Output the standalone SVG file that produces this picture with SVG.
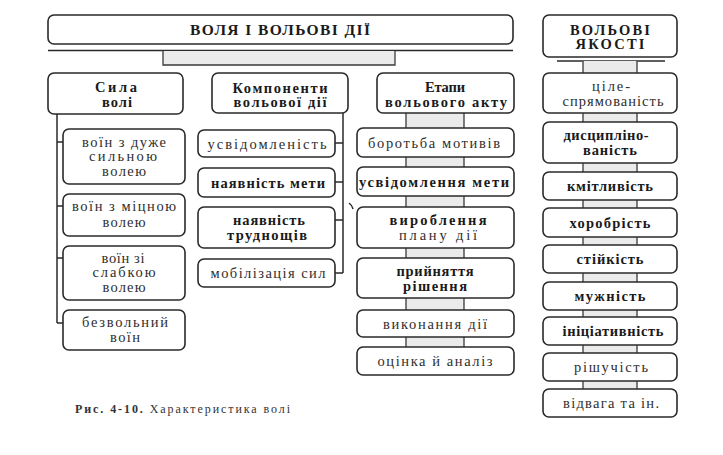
<svg xmlns="http://www.w3.org/2000/svg" width="723" height="455" viewBox="0 0 723 455">
  <style>
    .box { fill: #ffffff; stroke: #2a2a2a; stroke-width: 1.6; }
    .wire { fill: none; stroke: #2a2a2a; stroke-width: 1.5; }
    .bridge { fill: #ebebeb; stroke: none; }
    .side { fill: none; stroke: #3a3a3a; stroke-width: 1.3; }
    text { font-family: "Liberation Serif", "DejaVu Serif", serif; fill: #1a1a1a; text-anchor: middle; }
    .title { font-size: 15.5px; font-weight: bold; }
    .head { font-size: 14.5px; font-weight: bold; }
    .b { font-size: 14.5px; font-weight: bold; }
    .r { font-size: 14.5px; fill: #2e2e2e; }
    .cap { font-size: 12px; text-anchor: start; fill: #333; }
  </style>

  <!-- connectors -->
  <g id="connectors">
    <!-- link from the main title to the three columns -->
    <line class="wire" x1="48" y1="50.5" x2="513" y2="50.5"/>
    <rect class="bridge" x="163" y="51" width="232" height="14"/>
    <path class="side" d="M163,51 V65 H395 V51"/>

    <!-- link under the qualities header -->
    <line class="wire" x1="557" y1="61" x2="665" y2="61"/>

    <!-- strength-of-will branch -->
    <path class="wire" d="M57,114 V323"/>
    <path class="wire" d="M57,142 H63 M57,206 H63 M57,258 H63 M57,323 H63"/>

    <!-- components branch -->
    <path class="wire" d="M343,113 V273"/>
    <path class="wire" d="M335,143 H343 M335,182 H343 M335,220 H343 M335,273 H343"/>
    <path class="wire" d="M349,203 q3,2 4,6"/>

    <!-- stages chain -->
    <g>
      <rect class="bridge" x="406" y="113" width="58" height="15"/>
      <rect class="bridge" x="406" y="157" width="58" height="10"/>
      <rect class="bridge" x="406" y="196" width="58" height="11"/>
      <rect class="bridge" x="406" y="248" width="58" height="10"/>
      <rect class="bridge" x="406" y="298" width="58" height="12"/>
      <rect class="bridge" x="406" y="337" width="58" height="10"/>
      <path class="side" d="M406,113 V128 M464,113 V128 M406,157 V167 M464,157 V167 M406,196 V207 M464,196 V207 M406,248 V258 M464,248 V258 M406,298 V310 M464,298 V310 M406,337 V347 M464,337 V347"/>
    </g>

    <!-- qualities chain -->
    <g>
      <rect class="bridge" x="583" y="61" width="54" height="12"/>
      <rect class="bridge" x="583" y="113" width="54" height="9"/>
      <rect class="bridge" x="583" y="163" width="54" height="9"/>
      <rect class="bridge" x="583" y="200" width="54" height="8"/>
      <rect class="bridge" x="583" y="237" width="54" height="8"/>
      <rect class="bridge" x="583" y="273" width="54" height="9"/>
      <rect class="bridge" x="583" y="310" width="54" height="7"/>
      <rect class="bridge" x="583" y="345" width="54" height="8"/>
      <rect class="bridge" x="583" y="381" width="54" height="8"/>
      <path class="side" d="M583,61 V73 M637,61 V73 M583,113 V122 M637,113 V122 M583,163 V172 M637,163 V172 M583,200 V208 M637,200 V208 M583,237 V245 M637,237 V245 M583,273 V282 M637,273 V282 M583,310 V317 M637,310 V317 M583,345 V353 M637,345 V353 M583,381 V389 M637,381 V389"/>
    </g>
  </g>

  <!-- main title -->
  <g id="title">
    <rect class="box" x="48" y="15" width="465" height="29" rx="6"/>
    <text class="title" x="280" y="35" textLength="180">ВОЛЯ І ВОЛЬОВІ ДІЇ</text>
  </g>

  <!-- column: strength of will -->
  <g id="sila">
    <rect class="box" x="48" y="73" width="135" height="41" rx="6"/>
    <text class="head" x="116" y="92" textLength="42">Сила</text>
    <text class="head" x="117" y="106.5" textLength="30">волі</text>
  </g>
  <g id="sila-1">
    <rect class="box" x="63" y="129" width="122" height="55" rx="6"/>
    <text class="r" x="124" y="146.5" textLength="84">воїн з дуже</text>
    <text class="r" x="123" y="161" textLength="68">сильною</text>
    <text class="r" x="124" y="175.5" textLength="44">волею</text>
  </g>
  <g id="sila-2">
    <rect class="box" x="63" y="194" width="122" height="42" rx="6"/>
    <text class="r" x="124" y="211" textLength="104">воїн з міцною</text>
    <text class="r" x="124" y="226.5" textLength="43">волею</text>
  </g>
  <g id="sila-3">
    <rect class="box" x="63" y="246" width="122" height="54" rx="6"/>
    <text class="r" x="123" y="262.5" textLength="43">воїн зі</text>
    <text class="r" x="124" y="277" textLength="63">слабкою</text>
    <text class="r" x="124" y="291.5" textLength="43">волею</text>
  </g>
  <g id="sila-4">
    <rect class="box" x="63" y="310" width="122" height="40" rx="6"/>
    <text class="r" x="125" y="327" textLength="86">безвольний</text>
    <text class="r" x="125" y="341.5" textLength="30">воїн</text>
  </g>

  <!-- column: components of volitional action -->
  <g id="komponenty">
    <rect class="box" x="212" y="73" width="136" height="40" rx="6"/>
    <text class="head" x="280" y="92.5" textLength="95">Компоненти</text>
    <text class="b" x="280" y="107" textLength="93">вольової дії</text>
  </g>
  <g id="komp-1">
    <rect class="box" x="198" y="130" width="137" height="27" rx="6"/>
    <text class="r" x="267" y="148.5" textLength="119">усвідомленість</text>
  </g>
  <g id="komp-2">
    <rect class="box" x="198" y="168" width="137" height="29" rx="6"/>
    <text class="b" x="268" y="187.5" textLength="114">наявність мети</text>
  </g>
  <g id="komp-3">
    <rect class="box" x="198" y="207" width="137" height="41" rx="6"/>
    <text class="b" x="269" y="225" textLength="72">наявність</text>
    <text class="b" x="267" y="239.5" textLength="80">труднощів</text>
  </g>
  <g id="komp-4">
    <rect class="box" x="198" y="259" width="137" height="28" rx="6"/>
    <text class="r" x="268" y="278" textLength="115">мобілізація сил</text>
  </g>

  <!-- column: stages of the volitional act -->
  <g id="etapy">
    <rect class="box" x="377" y="73" width="137" height="40" rx="6"/>
    <text class="head" x="445" y="92" textLength="40">Етапи</text>
    <text class="b" x="446" y="106.5" textLength="122">вольового акту</text>
  </g>
  <g id="etap-1">
    <rect class="box" x="357" y="128" width="157" height="29" rx="6"/>
    <text class="r" x="434" y="147.5" textLength="132">боротьба мотивів</text>
  </g>
  <g id="etap-2">
    <rect class="box" x="357" y="167" width="157" height="29" rx="6"/>
    <text class="b" x="434" y="186.5" textLength="150">усвідомлення мети</text>
  </g>
  <g id="etap-3">
    <rect class="box" x="357" y="207" width="157" height="41" rx="6"/>
    <text class="b" x="438" y="225" textLength="97">вироблення</text>
    <text class="r" x="438" y="239.5" textLength="78">плану дії</text>
  </g>
  <g id="etap-4">
    <rect class="box" x="357" y="258" width="157" height="40" rx="6"/>
    <text class="b" x="435" y="276" textLength="77">прийняття</text>
    <text class="b" x="435" y="290.5" textLength="64">рішення</text>
  </g>
  <g id="etap-5">
    <rect class="box" x="357" y="310" width="157" height="27" rx="6"/>
    <text class="r" x="435" y="328.5" textLength="104">виконання дії</text>
  </g>
  <g id="etap-6">
    <rect class="box" x="357" y="347" width="157" height="28" rx="6"/>
    <text class="r" x="435" y="366" textLength="115">оцінка й аналіз</text>
  </g>

  <!-- column: volitional qualities -->
  <g id="yakosti">
    <rect class="box" x="543" y="15" width="134" height="42" rx="6"/>
    <text class="head" x="610" y="34.5" textLength="80">ВОЛЬОВІ</text>
    <text class="head" x="610" y="49" textLength="69">ЯКОСТІ</text>
  </g>
  <g id="yak-1">
    <rect class="box" x="543" y="73" width="134" height="40" rx="6"/>
    <text class="r" x="611" y="91" textLength="38">ціле-</text>
    <text class="r" x="613" y="105.5" textLength="101">спрямованість</text>
  </g>
  <g id="yak-2">
    <rect class="box" x="543" y="122" width="134" height="41" rx="6"/>
    <text class="b" x="606" y="140" textLength="85">дисципліно-</text>
    <text class="b" x="610" y="154.5" textLength="54">ваність</text>
  </g>
  <g id="yak-3">
    <rect class="box" x="543" y="172" width="134" height="28" rx="6"/>
    <text class="b" x="610" y="191" textLength="86">кмітливість</text>
  </g>
  <g id="yak-4">
    <rect class="box" x="543" y="208" width="134" height="29" rx="6"/>
    <text class="b" x="610" y="227.5" textLength="81">хоробрість</text>
  </g>
  <g id="yak-5">
    <rect class="box" x="543" y="245" width="134" height="28" rx="6"/>
    <text class="b" x="610" y="264" textLength="67">стійкість</text>
  </g>
  <g id="yak-6">
    <rect class="box" x="543" y="282" width="134" height="28" rx="6"/>
    <text class="b" x="610" y="301" textLength="71">мужність</text>
  </g>
  <g id="yak-7">
    <rect class="box" x="543" y="317" width="134" height="28" rx="6"/>
    <text class="b" x="613" y="336" textLength="101">ініціативність</text>
  </g>
  <g id="yak-8">
    <rect class="box" x="543" y="353" width="134" height="28" rx="6"/>
    <text class="r" x="611" y="372" textLength="74">рішучість</text>
  </g>
  <g id="yak-9">
    <rect class="box" x="543" y="389" width="134" height="28" rx="6"/>
    <text class="r" x="611" y="408" textLength="96">відвага та ін.</text>
  </g>

  <!-- figure caption -->
  <text class="cap" x="75" y="413" textLength="215"><tspan font-weight="bold">Рис. 4-10.</tspan> Характеристика волі</text>
</svg>
